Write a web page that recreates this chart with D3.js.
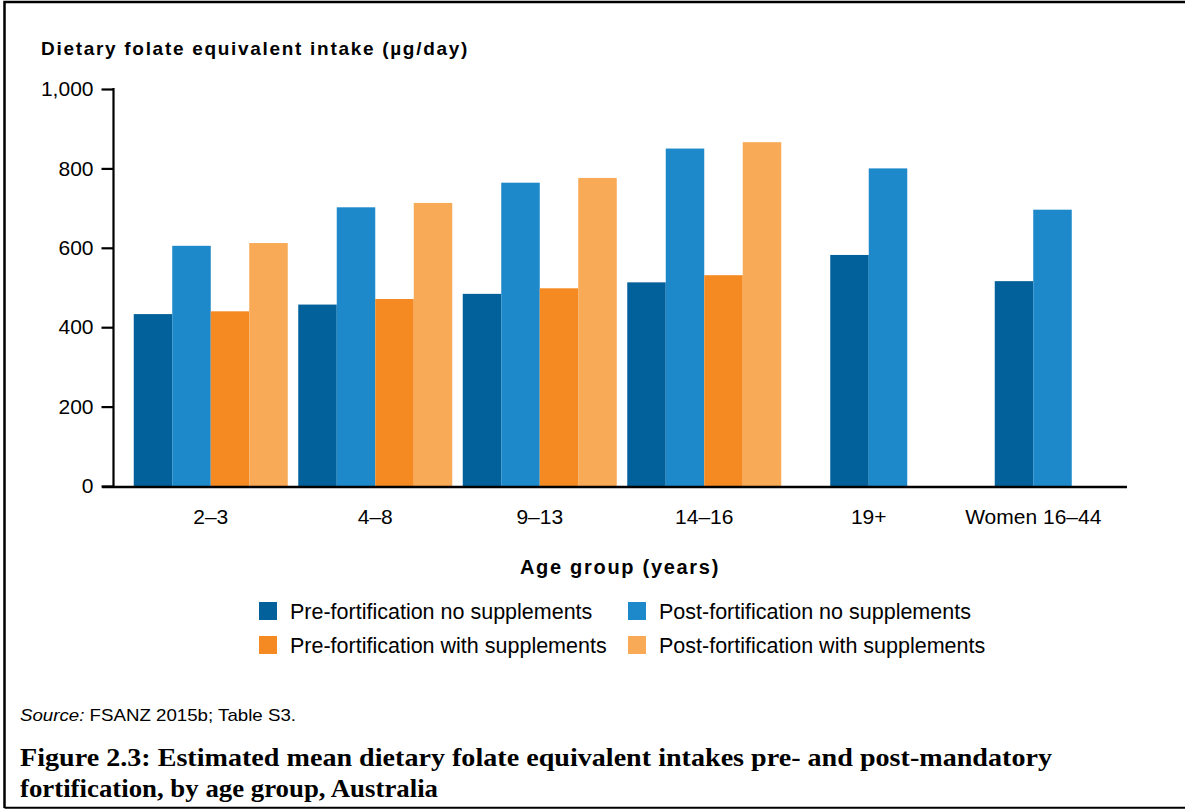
<!DOCTYPE html>
<html>
<head>
<meta charset="utf-8">
<script src="https://cdn.jsdelivr.net/npm/d3@7"></script>
<style>
  html, body { margin: 0; padding: 0; background: #fff; }
  svg { display: block; font-family: "Liberation Sans", Arial, sans-serif; }
</style>
</head>
<body>
<div id="chart"></div>
<script>
// data
var ageGroups = ["2\u20133", "4\u20138", "9\u201313", "14\u201316", "19+", "Women 16\u201344"];
var seriesNames = [
    "Pre-fortification no supplements",
    "Post-fortification no supplements",
    "Pre-fortification with supplements",
    "Post-fortification with supplements"
];
var preNoSupp = [433, 457, 484, 513, 582, 516];
var postNoSupp = [605, 702, 764, 850, 800, 696];
var preWithSupp = [440, 471, 498, 531, null, null];
var postWithSupp = [612, 713, 776, 866, null, null];
var yTicks = [0, 200, 400, 600, 800, 1000];

var colors = ["#02609a", "#1d89ca", "#f48a21", "#f8aa56"];

var w = 1185,
    h = 809;

var svg = d3.select("#chart").append("svg")
    .attr("width", w)
    .attr("height", h);

// frame round the figure
svg.append("path")
    .attr("d", "M4.5,808 V2 H1185")
    .attr("fill", "none")
    .attr("stroke", "#000")
    .attr("stroke-width", 2.5);
svg.append("line")
    .attr("x1", 4.5).attr("x2", w)
    .attr("y1", 807.7).attr("y2", 807.7)
    .attr("stroke", "#000")
    .attr("stroke-width", 2);

var y = d3.scaleLinear()
    .domain([0, 1000])
    .range([486, 89]);

var x0 = d3.scaleBand()
    .domain(ageGroups)
    .range([128.5, 1115.5])
    .padding(0);

var barW = 38.5;

var rows = ageGroups.map(function (g, i) {
    var vals = [preNoSupp[i], postNoSupp[i], preWithSupp[i], postWithSupp[i]];
    var present = vals.map(function (v, k) { return {k: k, v: v}; })
        .filter(function (d) { return d.v != null; });
    var start = x0(g) + x0.bandwidth() / 2 - present.length * barW / 2;
    return present.map(function (d, j) {
        return {group: g, series: d.k, value: d.v, x: start + j * barW};
    });
});

svg.append("g")
    .selectAll("g")
    .data(rows)
    .enter()
    .append("g")
    .selectAll("rect")
    .data(function (d) { return d; })
    .enter()
    .append("rect")
    .attr("x", function (d) { return d.x; })
    .attr("y", function (d) { return y(d.value); })
    .attr("width", barW)
    .attr("height", function (d) { return y(0) - y(d.value); })
    .attr("fill", function (d) { return colors[d.series]; });

// y axis
var yAxis = svg.append("g")
    .attr("transform", "translate(113.5,0)")
    .call(d3.axisLeft(y)
        .tickValues(yTicks)
        .tickSize(12)
        .tickPadding(8)
        .tickFormat(d3.format(",")));
yAxis.select(".domain")
    .attr("d", "M0," + (y(1000) - 1) + "V" + (y(0) + 1))
    .attr("stroke-width", 2.2);
yAxis.selectAll(".tick line").attr("stroke-width", 2.2);
yAxis.selectAll(".tick text")
    .attr("font-size", 21)
    .attr("font-family", "Liberation Sans, Arial, sans-serif")
    .attr("fill", "#000");

// x axis
var xAxis = svg.append("g")
    .attr("transform", "translate(0," + (y(0) + 1) + ")")
    .call(d3.axisBottom(x0).tickSize(0).tickPadding(22));
xAxis.select(".domain")
    .attr("d", "M102,0H1127")
    .attr("stroke-width", 2.5);
xAxis.selectAll(".tick text")
    .attr("font-size", 21)
    .attr("font-family", "Liberation Sans, Arial, sans-serif")
    .attr("fill", "#000");

// axis titles
svg.append("text")
    .attr("x", 41)
    .attr("y", 55)
    .attr("font-size", 19)
    .attr("font-weight", "bold")
    .attr("letter-spacing", 1.7)
    .text("Dietary folate equivalent intake (\u00b5g/day)");

svg.append("text")
    .attr("x", 620)
    .attr("y", 574)
    .attr("text-anchor", "middle")
    .attr("font-size", 20)
    .attr("font-weight", "bold")
    .attr("letter-spacing", 1.7)
    .text("Age group (years)");

// legend, two columns
var legendPos = [[259, 602], [628, 602], [259, 636], [628, 636]];
var legend = svg.append("g")
    .selectAll("g")
    .data(seriesNames)
    .enter()
    .append("g")
    .attr("transform", function (d, i) {
        return "translate(" + legendPos[i][0] + "," + legendPos[i][1] + ")";
    });
legend.append("rect")
    .attr("width", 18)
    .attr("height", 18)
    .attr("fill", function (d, i) { return colors[i]; });
legend.append("text")
    .attr("x", 31)
    .attr("y", 16.5)
    .attr("font-size", 21.5)
    .text(function (d) { return d; });

// source and caption
var source = svg.append("text")
    .attr("x", 20)
    .attr("y", 721)
    .attr("font-size", 17)
    .attr("textLength", 276)
    .attr("lengthAdjust", "spacingAndGlyphs");
source.append("tspan").attr("font-style", "italic").text("Source:");
source.append("tspan").text(" FSANZ 2015b; Table S3.");

svg.append("text")
    .attr("x", 20)
    .attr("y", 766)
    .attr("font-family", "Liberation Serif, 'Times New Roman', serif")
    .attr("font-weight", "bold")
    .attr("font-size", 25)
    .attr("textLength", 1032)
    .attr("lengthAdjust", "spacingAndGlyphs")
    .text("Figure 2.3: Estimated mean dietary folate equivalent intakes pre- and post-mandatory");
svg.append("text")
    .attr("x", 20)
    .attr("y", 797)
    .attr("font-family", "Liberation Serif, 'Times New Roman', serif")
    .attr("font-weight", "bold")
    .attr("font-size", 25)
    .attr("textLength", 418)
    .attr("lengthAdjust", "spacingAndGlyphs")
    .text("fortification, by age group, Australia");
</script>
</body>
</html>
